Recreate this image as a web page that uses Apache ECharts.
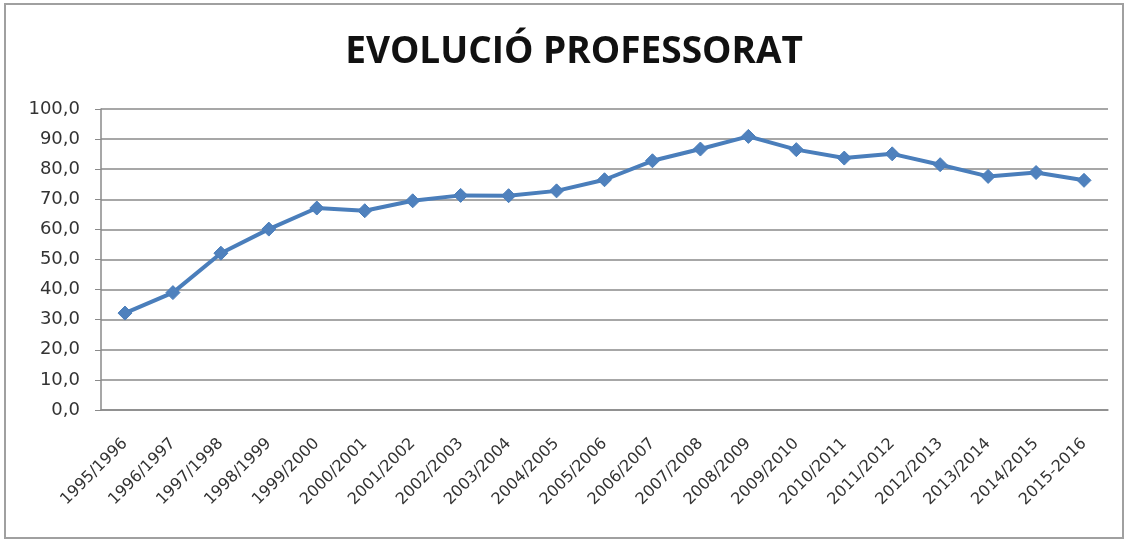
<!DOCTYPE html>
<html>
<head>
<meta charset="utf-8">
<script src="https://cdn.jsdelivr.net/npm/echarts@6/dist/echarts.min.js"></script>
<style>
  html, body { margin: 0; padding: 0; background: #fff; }
  #chart { width: 1128px; height: 541px; }
</style>
</head>
<body>
<div id="chart"></div>
<script>
// cursos
var cursos = ['1995/1996', '1996/1997', '1997/1998', '1998/1999', '1999/2000', '2000/2001',
    '2001/2002', '2002/2003', '2003/2004', '2004/2005', '2005/2006', '2006/2007',
    '2007/2008', '2008/2009', '2009/2010', '2010/2011', '2011/2012', '2012/2013',
    '2013/2014', '2014/2015', '2015-2016'];
// professorat
var professorat = [32.2, 39.0, 52.1, 60.1, 67.1, 66.2, 69.5, 71.3, 71.2, 72.8, 76.5,
    82.8, 86.7, 90.9, 86.5, 83.7, 85.1, 81.5, 77.6, 78.9, 76.3];
var yMin = 0, yMax = 100, yStep = 10;

var myChart = echarts.init(document.getElementById('chart'));

var option = {
    backgroundColor: '#fff',
    animation: false,
    title: {
        text: 'EVOLUCIÓ PROFESSORAT',
        left: 569,
        top: 29,
        textAlign: 'center',
        textStyle: {
            fontFamily: 'Open Sans',
            fontWeight: 'bold',
            fontSize: 37,
            color: '#111'
        }
    },
    graphic: [{
        type: 'rect',
        shape: { x: 5, y: 4, width: 1118, height: 534 },
        style: { fill: 'none', stroke: '#a0a0a0', lineWidth: 2 },
        silent: true
    }],
    grid: { left: 101, right: 20, top: 109, bottom: 131 },
    xAxis: {
        type: 'category',
        data: cursos,
        axisLine: { lineStyle: { color: '#8a8a8a', width: 1.5 } },
        axisTick: { length: 6, lineStyle: { color: '#8a8a8a' } },
        axisLabel: {
            rotate: 45,
            margin: 31,
            interval: 0,
            fontFamily: 'DejaVu Sans',
            fontSize: 16,
            color: '#333'
        }
    },
    yAxis: {
        type: 'value',
        min: yMin,
        max: yMax,
        interval: yStep,
        axisLine: { show: true, lineStyle: { color: '#8a8a8a', width: 1.5 } },
        axisTick: { show: true, length: 6, lineStyle: { color: '#8a8a8a' } },
        splitLine: { lineStyle: { color: '#8a8a8a', width: 1.5 } },
        axisLabel: {
            margin: 21,
            fontFamily: 'DejaVu Sans',
            fontSize: 18,
            color: '#333',
            formatter: function (v) { return v.toFixed(1).replace('.', ','); }
        }
    },
    series: [{
        name: 'Professorat',
        type: 'line',
        data: professorat,
        symbol: 'diamond',
        symbolSize: 14,
        lineStyle: { color: '#4a7ebb', width: 4 },
        itemStyle: { color: '#4f81bd', borderColor: '#4a7ebb', borderWidth: 1 }
    }]
};

myChart.setOption(option);
</script>
</body>
</html>
